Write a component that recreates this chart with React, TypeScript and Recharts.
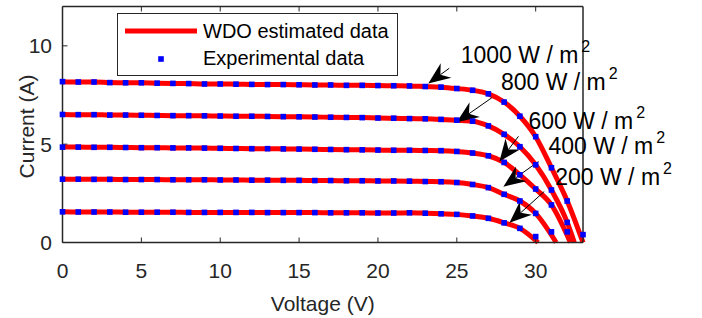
import React from "react";
import {
  ComposedChart,
  Line,
  Scatter,
  XAxis,
  YAxis,
  ReferenceLine,
  ReferenceDot,
  Legend,
} from "recharts";

const FONT = "'Liberation Sans', Arial, Helvetica, sans-serif";
const AXIS = "#262626";

// voltage steps of the measured points (V)
const voltage = [
  0, 1, 2, 3, 4, 5, 6, 7, 8, 9, 10, 11, 12, 13, 14, 15, 16, 17, 18, 19, 20,
  21, 22, 23, 24, 25, 26, 27, 28, 29, 30, 31, 32, 33,
];

const irradiance = [1000, 800, 600, 400, 200];

// measured current (A) for each irradiance
const exp1000 = [
  8.18, 8.16, 8.16, 8.13, 8.12, 8.12, 8.1, 8.09, 8.08, 8.06, 8.06, 8.05, 8.04,
  8.03, 8.03, 8.02, 8.01, 8.01, 7.99, 7.99, 7.98, 7.97, 7.96, 7.93, 7.9, 7.83,
  7.74, 7.56, 7.14, 6.42, 5.38, 3.8, 2.11, 0.4,
];
const exp800 = [
  6.51, 6.5, 6.5, 6.48, 6.48, 6.47, 6.46, 6.45, 6.45, 6.44, 6.43, 6.42, 6.42,
  6.41, 6.4, 6.39, 6.38, 6.37, 6.36, 6.35, 6.33, 6.32, 6.3, 6.29, 6.26, 6.22,
  6.17, 5.93, 5.5, 4.87, 3.95, 2.67, 1.02,
];
const exp600 = [
  4.85, 4.85, 4.84, 4.84, 4.83, 4.82, 4.82, 4.81, 4.81, 4.8, 4.79, 4.78, 4.77,
  4.77, 4.76, 4.75, 4.74, 4.73, 4.72, 4.71, 4.7, 4.69, 4.69, 4.68, 4.67, 4.63,
  4.55, 4.41, 4.07, 3.44, 2.72, 1.91, 0.54,
];
const exp400 = [
  3.22, 3.22, 3.21, 3.21, 3.2, 3.2, 3.2, 3.19, 3.19, 3.19, 3.18, 3.18, 3.17,
  3.17, 3.16, 3.16, 3.15, 3.15, 3.14, 3.14, 3.13, 3.13, 3.12, 3.1, 3.09, 3.05,
  2.95, 2.79, 2.45, 2.11, 1.48, 0.54,
];
const exp200 = [
  1.56, 1.55, 1.55, 1.55, 1.54, 1.54, 1.54, 1.54, 1.53, 1.53, 1.53, 1.53, 1.53,
  1.52, 1.52, 1.52, 1.52, 1.51, 1.51, 1.51, 1.5, 1.5, 1.51, 1.49, 1.46, 1.43,
  1.35, 1.23, 1.0, 0.72, 0.3,
];
const measured = [exp1000, exp800, exp600, exp400, exp200];

// estimated curve: measured points up to lastPoint, then open-circuit voltage
const lastPoint = [32, 32, 31, 30, 29];
const vocEstimated = [33.0, 32.45, 32.2, 31.3, 30.15];

// annotation arrows (tail -> tip) and label anchors, data units
const arrowTail = [
  [24.52, 8.86],
  [27.22, 7.36],
  [28.91, 5.4],
  [30.18, 4.12],
  [30.54, 2.59],
];
const arrowTip = [
  [23.19, 8.08],
  [24.99, 6.11],
  [27.7, 4.12],
  [27.95, 2.84],
  [28.34, 1.0],
];
const labelAt = [
  [25.25, 9.15],
  [27.8, 7.76],
  [29.54, 5.78],
  [30.81, 4.51],
  [31.24, 2.93],
];

const xTicks = [0, 5, 10, 15, 20, 25, 30];
const yTicks = [0, 5, 10];
const xMax = 33;
const yMax = 12;

const CHART_H = 318;
const MARGIN_TOP = 6.5;
const XAXIS_H = 75.5;
const PLOT_H = CHART_H - MARGIN_TOP - XAXIS_H;

const dotsOf = (vals: number[]) => vals.map((i, k) => ({ v: voltage[k], i }));
const lineOf = (vals: number[], n: number) => [
  ...vals.slice(0, lastPoint[n] + 1).map((i, k) => ({ v: voltage[k], i })),
  { v: vocEstimated[n], i: 0 },
];

const Square = (p: any) => (
  <rect x={p.cx - 2.8} y={p.cy - 2.8} width={5.6} height={5.6} fill="#0000ff" />
);

const Arrow = (p: any) => {
  const { x1, y1, x2, y2 } = p;
  const dx = x1 - x2;
  const dy = y1 - y2;
  const len = Math.hypot(dx, dy) || 1;
  const ux = dx / len;
  const uy = dy / len;
  const nx = -uy;
  const ny = ux;
  const L = 22;
  const W = 9;
  const N = 15;
  const pts = [
    [x2, y2],
    [x2 + ux * L + nx * W, y2 + uy * L + ny * W],
    [x2 + ux * N, y2 + uy * N],
    [x2 + ux * L - nx * W, y2 + uy * L - ny * W],
  ]
    .map((q) => q.join(","))
    .join(" ");
  return (
    <g>
      <line x1={x1} y1={y1} x2={x2 + ux * N} y2={y2 + uy * N} stroke="#000" strokeWidth={1} />
      <polygon points={pts} fill="#000" />
    </g>
  );
};

const IrrLabel = ({ cx, cy, value }: any) => (
  <text x={cx} y={cy} fontSize={23} fontFamily={FONT} fill="#000">
    {value} W / m
    <tspan dx={3} dy={-11} fontSize={16}>
      2
    </tspan>
  </text>
);

const LegendBox = () => (
  <div
    style={{
      width: 281,
      height: 63,
      boxSizing: "border-box",
      border: `1px solid ${AXIS}`,
      background: "#fff",
    }}
  >
    <svg width={279} height={61} style={{ display: "block" }}>
      <line x1={7} y1={17} x2={79} y2={17} stroke="#ff0000" strokeWidth={5} />
      <text x={85} y={24} fontSize={20} fontFamily={FONT} fill="#000">
        WDO estimated data
      </text>
      <rect x={40.2} y={42.2} width={5.6} height={5.6} fill="#0000ff" />
      <text x={85} y={51} fontSize={20} fontFamily={FONT} fill="#000">
        Experimental data
      </text>
    </svg>
  </div>
);

const YLabel = (props: any) => {
  const vb = props.viewBox || { x: 0, y: MARGIN_TOP, width: 62.5, height: PLOT_H };
  const cx = vb.x + 34;
  const cy = vb.y + vb.height / 2 + 2;
  return (
    <text
      x={cx}
      y={cy}
      transform={`rotate(-90, ${cx}, ${cy})`}
      textAnchor="middle"
      fontSize={21}
      fontFamily={FONT}
      fill={AXIS}
    >
      Current (A)
    </text>
  );
};

// x-axis title, plus the top edge of the box with its inward ticks
const XLabel = (props: any) => {
  const vb = props.viewBox || { x: 62.5, y: 242.5, width: 520, height: XAXIS_H };
  const top = vb.y - PLOT_H;
  return (
    <g>
      <line x1={vb.x} y1={top} x2={vb.x + vb.width} y2={top} stroke={AXIS} strokeWidth={1.5} />
      {xTicks.map((t) => {
        const tx = vb.x + (vb.width * t) / xMax;
        return <line key={t} x1={tx} y1={top} x2={tx} y2={top + 5} stroke={AXIS} strokeWidth={1} />;
      })}
      <text
        x={vb.x + vb.width / 2}
        y={vb.y + 68}
        textAnchor="middle"
        fontSize={21}
        fontFamily={FONT}
        fill={AXIS}
      >
        Voltage (V)
      </text>
    </g>
  );
};

export default function App() {
  const tickStyle = { fill: AXIS, fontSize: 21, fontFamily: FONT };
  return (
    <div
      style={{
        position: "absolute",
        left: 0,
        top: 0,
        width: 702,
        height: CHART_H,
        background: "#fff",
      }}
    >
      <ComposedChart
        width={702}
        height={CHART_H}
        margin={{ top: MARGIN_TOP, right: 118, bottom: 0, left: 0 }}
      >
        <XAxis
          dataKey="v"
          type="number"
          domain={[0, xMax]}
          ticks={xTicks}
          height={XAXIS_H}
          tickSize={-5}
          tickMargin={26}
          tick={tickStyle}
          axisLine={{ stroke: AXIS, strokeWidth: 1.5 }}
          tickLine={{ stroke: AXIS }}
          label={{ content: XLabel }}
        />
        <YAxis
          type="number"
          domain={[0, yMax]}
          ticks={yTicks}
          width={62.5}
          tickSize={-5}
          tickMargin={15.5}
          tick={tickStyle}
          axisLine={{ stroke: AXIS, strokeWidth: 1.5 }}
          tickLine={{ stroke: AXIS }}
          label={{ content: YLabel }}
        />
        <YAxis
          yAxisId="right"
          orientation="right"
          type="number"
          domain={[0, yMax]}
          ticks={yTicks}
          width={1}
          tickSize={-5}
          tick={false}
          axisLine={{ stroke: AXIS, strokeWidth: 1.5 }}
          tickLine={{ stroke: AXIS }}
        />

        {measured.map((vals, n) => (
          <Line
            key={`est-${irradiance[n]}`}
            data={lineOf(vals, n)}
            dataKey="i"
            type="monotone"
            stroke="#ff0000"
            strokeWidth={5}
            dot={false}
            activeDot={false}
            isAnimationActive={false}
          />
        ))}
        {measured.map((vals, n) => (
          <Scatter
            key={`exp-${irradiance[n]}`}
            data={dotsOf(vals)}
            dataKey="i"
            shape={Square}
            isAnimationActive={false}
          />
        ))}

        {irradiance.map((g, n) => (
          <ReferenceLine
            key={`arrow-${g}`}
            segment={[
              { x: arrowTail[n][0], y: arrowTail[n][1] },
              { x: arrowTip[n][0], y: arrowTip[n][1] },
            ]}
            shape={Arrow}
          />
        ))}
        {irradiance.map((g, n) => (
          <ReferenceDot
            key={`label-${g}`}
            x={labelAt[n][0]}
            y={labelAt[n][1]}
            shape={(p: any) => <IrrLabel cx={p.cx} cy={p.cy} value={g} />}
          />
        ))}

        <Legend
          layout="vertical"
          align="center"
          verticalAlign="middle"
          wrapperStyle={{ left: 117, top: 13, width: 281, height: 63 }}
          content={() => <LegendBox />}
        />
      </ComposedChart>
    </div>
  );
}
